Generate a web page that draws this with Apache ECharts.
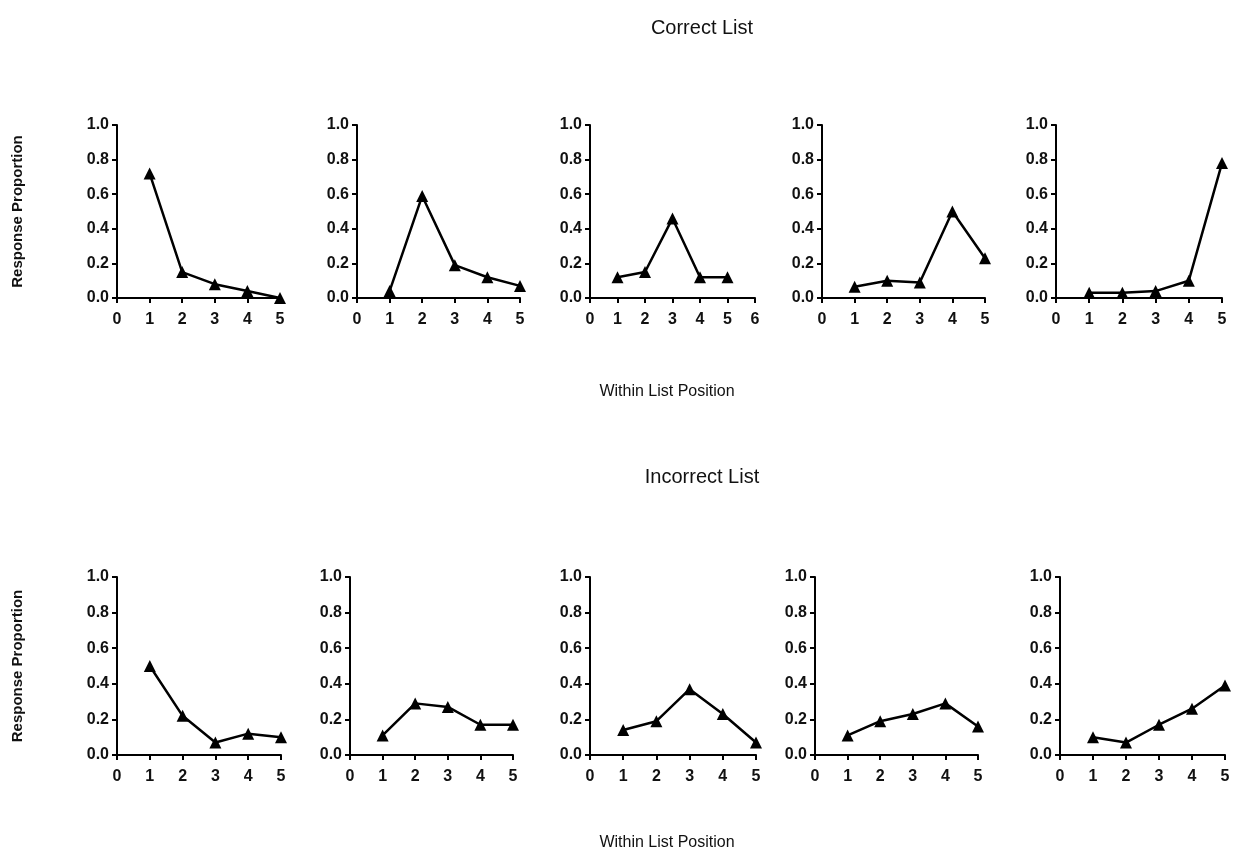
<!DOCTYPE html>
<html>
<head>
<meta charset="utf-8">
<script src="https://cdn.jsdelivr.net/npm/echarts@6/dist/echarts.min.js"></script>
<style>
  html, body { margin: 0; padding: 0; background: #fff; }
  #chart { width: 1237px; height: 852px; }
</style>
</head>
<body>
<div id="chart"></div>
<script>
// within list positions
const positions = [1, 2, 3, 4, 5]

// Correct List, one array per panel
const correct1 = [0.72, 0.15, 0.08, 0.04, 0.00]
const correct2 = [0.04, 0.59, 0.19, 0.12, 0.07]
const correct3 = [0.12, 0.15, 0.46, 0.12, 0.12]
const correct4 = [0.065, 0.10, 0.09, 0.50, 0.23]
const correct5 = [0.03, 0.03, 0.04, 0.10, 0.78]

// Incorrect List
const incorrect1 = [0.50, 0.22, 0.07, 0.12, 0.10]
const incorrect2 = [0.11, 0.29, 0.27, 0.17, 0.17]
const incorrect3 = [0.14, 0.19, 0.37, 0.23, 0.07]
const incorrect4 = [0.11, 0.19, 0.23, 0.29, 0.16]
const incorrect5 = [0.10, 0.07, 0.17, 0.26, 0.39]

const xMaxTop = [5, 5, 6, 5, 5]
const xMaxBottom = [5, 5, 5, 5, 5]

const rows = [
  { top: 125, height: 173, lefts: [117, 357, 590, 822, 1056], widths: [163, 163, 165, 163, 166], xMax: xMaxTop,
    data: [correct1, correct2, correct3, correct4, correct5] },
  { top: 577, height: 178, lefts: [117, 350, 590, 815, 1060], widths: [164, 163, 166, 163, 165], xMax: xMaxBottom,
    data: [incorrect1, incorrect2, incorrect3, incorrect4, incorrect5] }
]

const FONT = 'Liberation Sans, Arial, sans-serif'
const axisLine = { show: true, onZero: false, lineStyle: { color: '#000', width: 2 } }
const axisTick = { show: true, length: 5, lineStyle: { color: '#000', width: 2 } }

let grid = [], xAxis = [], yAxis = [], series = []
rows.forEach((row, r) => {
  row.data.forEach((vals, i) => {
    const idx = grid.length
    grid.push({ left: row.lefts[i], top: row.top, width: row.widths[i], height: row.height })
    xAxis.push({
      type: 'value', gridIndex: idx, min: 0, max: row.xMax[i], interval: 1,
      axisLine, axisTick, splitLine: { show: false },
      axisLabel: { color: '#111', fontSize: 16, fontWeight: 'bold', fontFamily: FONT, margin: 14 }
    })
    yAxis.push({
      type: 'value', gridIndex: idx, min: 0, max: 1, interval: 0.2,
      axisLine, axisTick, splitLine: { show: false },
      axisLabel: { color: '#111', fontSize: 16, fontWeight: 'bold', fontFamily: FONT, margin: 8,
        formatter: v => v.toFixed(1) },
      name: i === 0 ? 'Response Proportion' : '',
      nameLocation: 'middle', nameGap: 92, nameRotate: 90,
      nameTextStyle: { color: '#111', fontSize: 15, fontWeight: 'bold', fontFamily: FONT }
    })
    series.push({
      type: 'line', xAxisIndex: idx, yAxisIndex: idx,
      data: positions.map((p, k) => [p, vals[k]]),
      symbol: 'triangle', symbolSize: 12,
      lineStyle: { color: '#000', width: 2.5 },
      itemStyle: { color: '#000' },
      animation: false
    })
  })
})

const textStyle = (size) => ({ fill: '#111', fontSize: size, fontFamily: FONT, textAlign: 'center', textVerticalAlign: 'middle' })

const chart = echarts.init(document.getElementById('chart'))
chart.setOption({
  animation: false,
  grid, xAxis, yAxis, series,
  graphic: [
    { type: 'text', x: 702, y: 28, style: Object.assign({ text: 'Correct List' }, textStyle(20)) },
    { type: 'text', x: 667, y: 392, style: Object.assign({ text: 'Within List Position' }, textStyle(16)) },
    { type: 'text', x: 702, y: 477, style: Object.assign({ text: 'Incorrect List' }, textStyle(20)) },
    { type: 'text', x: 667, y: 843, style: Object.assign({ text: 'Within List Position' }, textStyle(16)) }
  ]
})
</script>
</body>
</html>
